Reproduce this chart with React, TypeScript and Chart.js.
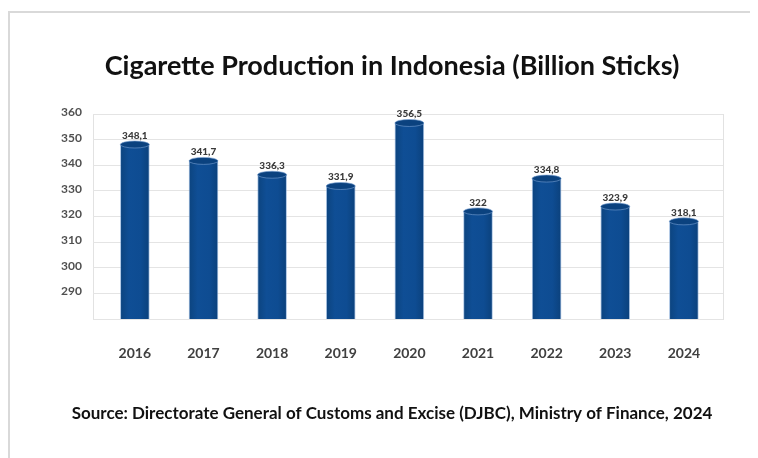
import React, { useEffect, useRef } from "react";
import { Chart, registerables } from "chart.js";

Chart.register(...registerables);

const years = ["2016", "2017", "2018", "2019", "2020", "2021", "2022", "2023", "2024"];
const production = [348.1, 341.7, 336.3, 331.9, 356.5, 322, 334.8, 323.9, 318.1];
const valueLabels = ["348,1", "341,7", "336,3", "331,9", "356,5", "322", "334,8", "323,9", "318,1"];
const yTicks = [280, 290, 300, 310, 320, 330, 340, 350, 360];
const titleText = "Cigarette Production in Indonesia (Billion Sticks)";
const sourceText = "Source: Directorate General of Customs and Excise (DJBC), Ministry of Finance, 2024";

const FONT = "Lato, 'Open Sans', sans-serif";
const BAR_W = 29;

const decorPlugin = {
  id: "decor",
  beforeDraw(chart: any) {
    const { ctx, chartArea } = chart;
    ctx.save();
    ctx.fillStyle = "#ffffff";
    ctx.fillRect(0, 0, chart.width, chart.height);
    // outer frame
    ctx.strokeStyle = "#d9d9d9";
    ctx.lineWidth = 2;
    ctx.beginPath();
    ctx.moveTo(1, chart.height);
    ctx.lineTo(1, 4);
    ctx.lineTo(chart.width, 4);
    ctx.stroke();
    // plot border
    ctx.strokeStyle = "#e2e2e2";
    ctx.lineWidth = 1;
    ctx.strokeRect(chartArea.left + 0.5, chartArea.top + 0.5, chartArea.right - chartArea.left, chartArea.bottom - chartArea.top);
    ctx.restore();
  },
  afterDatasetsDraw(chart: any) {
    const { ctx } = chart;
    const meta = chart.getDatasetMeta(0);
    ctx.save();
    meta.data.forEach((bar: any, i: number) => {
      const x = bar.x;
      const y = bar.y;
      const rx = BAR_W / 2;
      // top cap
      ctx.beginPath();
      ctx.ellipse(x, y, rx, 3.5, 0, 0, Math.PI * 2);
      ctx.fillStyle = "#0b427f";
      ctx.fill();
      ctx.strokeStyle = "rgba(120,160,210,0.6)";
      ctx.lineWidth = 1;
      ctx.stroke();
      // value label
      ctx.fillStyle = "#3a3a3a";
      ctx.font = `900 10px ${FONT}`;
      ctx.textAlign = "center";
      ctx.textBaseline = "middle";
      ctx.fillText(valueLabels[i], x, y - 9);
    });
    // title & source
    ctx.fillStyle = "#111111";
    ctx.textAlign = "center";
    ctx.textBaseline = "middle";
    ctx.font = `bold 27px ${FONT}`;
    ctx.fillText(titleText, 384, 58);
    ctx.font = `bold 17px ${FONT}`;
    ctx.fillText(sourceText, 384, 406);
    ctx.restore();
  },
};

export default function App() {
  const ref = useRef<HTMLCanvasElement | null>(null);

  useEffect(() => {
    if (!ref.current) return;
    const chart = new Chart(ref.current, {
      type: "bar",
      data: {
        datasets: [
          {
            data: production.map((v, i) => ({ x: i, y: v })),
            barThickness: BAR_W,
            backgroundColor: (c: any) => {
              const chartObj = c.chart;
              if (!chartObj.chartArea || c.parsed === undefined) return "#0e4c92";
              const cx = chartObj.scales.x.getPixelForValue(c.parsed.x);
              const g = chartObj.ctx.createLinearGradient(cx - BAR_W / 2, 0, cx + BAR_W / 2, 0);
              g.addColorStop(0, "#0c447f");
              g.addColorStop(0.3, "#0f4e95");
              g.addColorStop(0.7, "#0e4c92");
              g.addColorStop(1, "#0b417c");
              return g;
            },
            borderColor: "rgba(120,160,210,0.6)",
            borderWidth: { left: 1, right: 1, top: 0, bottom: 0 },
            borderSkipped: false,
          },
        ],
      },
      options: {
        responsive: false,
        animation: false,
        layout: { padding: { top: 106, right: 35, bottom: 99, left: 0 } },
        plugins: {
          legend: { display: false },
          tooltip: { enabled: false },
          title: { display: false },
        },
        scales: {
          x: {
            type: "linear",
            offset: false,
            min: -0.61,
            max: 8.57,
            afterBuildTicks: (s: any) => {
              s.ticks = years.map((_, i) => ({ value: i }));
            },
            afterFit: (s: any) => {
              s.height = 40;
            },
            grid: { display: false, drawTicks: false, offset: false },
            border: { display: false },
            ticks: {
              padding: 26,
              color: "#404040",
              font: { family: FONT, weight: "bold", size: 14 },
              callback: (v: any) => years[v] ?? "",
              autoSkip: false,
              maxRotation: 0,
            },
          },
          y: {
            min: yTicks[0],
            max: yTicks[yTicks.length - 1],
            afterBuildTicks: (s: any) => {
              s.ticks = yTicks.map((v) => ({ value: v }));
            },
            afterFit: (s: any) => {
              s.width = 85;
            },
            grid: { color: "#e4e4e4", drawTicks: false, lineWidth: 1 },
            border: { display: false },
            ticks: {
              padding: 11,
              labelOffset: -2,
              color: "#505050",
              font: { family: FONT, weight: "bold", size: 12 },
              callback: (v: any) => (v === yTicks[0] ? "" : String(v)),
            },
          },
        },
      },
      plugins: [decorPlugin],
    } as any);
    return () => chart.destroy();
  }, []);

  return (
    <div style={{ width: 750, height: 450 }}>
      <canvas ref={ref} width={750} height={450} style={{ display: "block" }} />
    </div>
  );
}
